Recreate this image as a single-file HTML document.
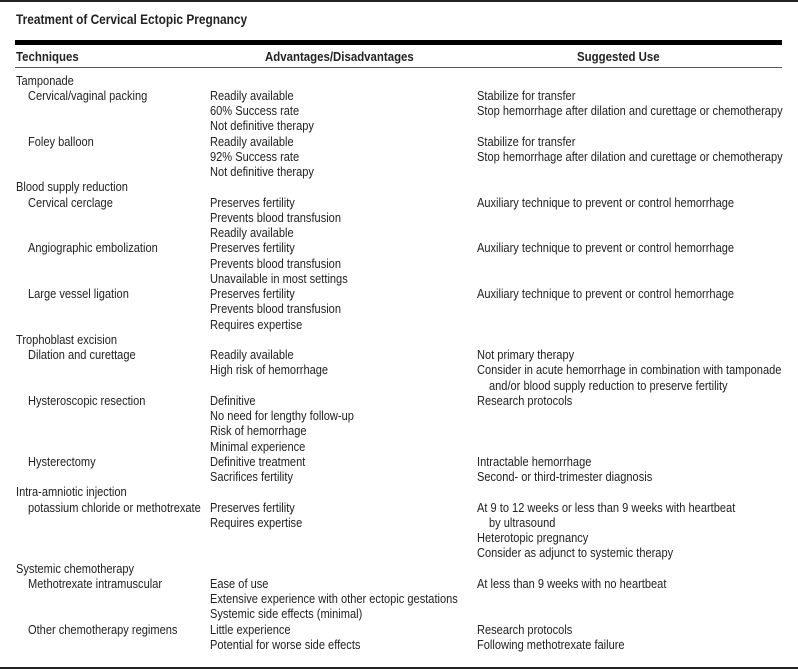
<!DOCTYPE html>
<html><head><meta charset="utf-8"><style>
body{margin:0;width:798px;height:670px;background:#fff;position:relative;overflow:hidden;font-family:"Liberation Sans Narrow","Liberation Sans",sans-serif;color:#222}
div{position:absolute;white-space:nowrap}
.t{font-size:12.5px;line-height:15px;transform:scaleX(.885);transform-origin:0 0}
.b{font-weight:bold;font-size:13px;line-height:15px;transform:scaleX(.88);transform-origin:0 0}
</style></head><body>
<div style="left:0;top:0;width:798px;height:1.5px;background:#222"></div>
<div class="b" style="left:16px;top:12px;font-size:13.5px">Treatment of Cervical Ectopic Pregnancy</div>
<div style="left:15px;top:40px;width:767px;height:5px;background:#000"></div>
<div class="b" style="left:16px;top:49px">Techniques</div>
<div class="b" style="left:265px;top:49px">Advantages/Disadvantages</div>
<div class="b" style="left:577px;top:49px">Suggested Use</div>
<div style="left:15px;top:67px;width:767px;height:1px;background:#555"></div>
<div style="left:0;top:667px;width:798px;height:2px;background:#222"></div>

<div class="t" style="left:16px;top:74px">Tamponade</div>
<div class="t" style="left:28px;top:89px">Cervical/vaginal packing</div>
<div class="t" style="left:210px;top:89px">Readily available</div>
<div class="t" style="left:477px;top:89px">Stabilize for transfer</div>
<div class="t" style="left:210px;top:104px">60% Success rate</div>
<div class="t" style="left:477px;top:104px">Stop hemorrhage after dilation and curettage or chemotherapy</div>
<div class="t" style="left:210px;top:119px">Not definitive therapy</div>
<div class="t" style="left:28px;top:135px">Foley balloon</div>
<div class="t" style="left:210px;top:135px">Readily available</div>
<div class="t" style="left:477px;top:135px">Stabilize for transfer</div>
<div class="t" style="left:210px;top:150px">92% Success rate</div>
<div class="t" style="left:477px;top:150px">Stop hemorrhage after dilation and curettage or chemotherapy</div>
<div class="t" style="left:210px;top:165px">Not definitive therapy</div>
<div class="t" style="left:16px;top:180px">Blood supply reduction</div>
<div class="t" style="left:28px;top:196px">Cervical cerclage</div>
<div class="t" style="left:210px;top:196px">Preserves fertility</div>
<div class="t" style="left:477px;top:196px">Auxiliary technique to prevent or control hemorrhage</div>
<div class="t" style="left:210px;top:211px">Prevents blood transfusion</div>
<div class="t" style="left:210px;top:226px">Readily available</div>
<div class="t" style="left:28px;top:241px">Angiographic embolization</div>
<div class="t" style="left:210px;top:241px">Preserves fertility</div>
<div class="t" style="left:477px;top:241px">Auxiliary technique to prevent or control hemorrhage</div>
<div class="t" style="left:210px;top:257px">Prevents blood transfusion</div>
<div class="t" style="left:210px;top:272px">Unavailable in most settings</div>
<div class="t" style="left:28px;top:287px">Large vessel ligation</div>
<div class="t" style="left:210px;top:287px">Preserves fertility</div>
<div class="t" style="left:477px;top:287px">Auxiliary technique to prevent or control hemorrhage</div>
<div class="t" style="left:210px;top:302px">Prevents blood transfusion</div>
<div class="t" style="left:210px;top:318px">Requires expertise</div>
<div class="t" style="left:16px;top:333px">Trophoblast excision</div>
<div class="t" style="left:28px;top:348px">Dilation and curettage</div>
<div class="t" style="left:210px;top:348px">Readily available</div>
<div class="t" style="left:477px;top:348px">Not primary therapy</div>
<div class="t" style="left:210px;top:363px">High risk of hemorrhage</div>
<div class="t" style="left:477px;top:363px">Consider in acute hemorrhage in combination with tamponade</div>
<div class="t" style="left:489px;top:379px">and/or blood supply reduction to preserve fertility</div>
<div class="t" style="left:28px;top:394px">Hysteroscopic resection</div>
<div class="t" style="left:210px;top:394px">Definitive</div>
<div class="t" style="left:477px;top:394px">Research protocols</div>
<div class="t" style="left:210px;top:409px">No need for lengthy follow-up</div>
<div class="t" style="left:210px;top:424px">Risk of hemorrhage</div>
<div class="t" style="left:210px;top:440px">Minimal experience</div>
<div class="t" style="left:28px;top:455px">Hysterectomy</div>
<div class="t" style="left:210px;top:455px">Definitive treatment</div>
<div class="t" style="left:477px;top:455px">Intractable hemorrhage</div>
<div class="t" style="left:210px;top:470px">Sacrifices fertility</div>
<div class="t" style="left:477px;top:470px">Second- or third-trimester diagnosis</div>
<div class="t" style="left:16px;top:485px">Intra-amniotic injection</div>
<div class="t" style="left:28px;top:501px">potassium chloride or methotrexate</div>
<div class="t" style="left:210px;top:501px">Preserves fertility</div>
<div class="t" style="left:477px;top:501px">At 9 to 12 weeks or less than 9 weeks with heartbeat</div>
<div class="t" style="left:210px;top:516px">Requires expertise</div>
<div class="t" style="left:489px;top:516px">by ultrasound</div>
<div class="t" style="left:477px;top:531px">Heterotopic pregnancy</div>
<div class="t" style="left:477px;top:546px">Consider as adjunct to systemic therapy</div>
<div class="t" style="left:16px;top:562px">Systemic chemotherapy</div>
<div class="t" style="left:28px;top:577px">Methotrexate intramuscular</div>
<div class="t" style="left:210px;top:577px">Ease of use</div>
<div class="t" style="left:477px;top:577px">At less than 9 weeks with no heartbeat</div>
<div class="t" style="left:210px;top:592px">Extensive experience with other ectopic gestations</div>
<div class="t" style="left:210px;top:607px">Systemic side effects (minimal)</div>
<div class="t" style="left:28px;top:623px">Other chemotherapy regimens</div>
<div class="t" style="left:210px;top:623px">Little experience</div>
<div class="t" style="left:477px;top:623px">Research protocols</div>
<div class="t" style="left:210px;top:638px">Potential for worse side effects</div>
<div class="t" style="left:477px;top:638px">Following methotrexate failure</div>
</body></html>
